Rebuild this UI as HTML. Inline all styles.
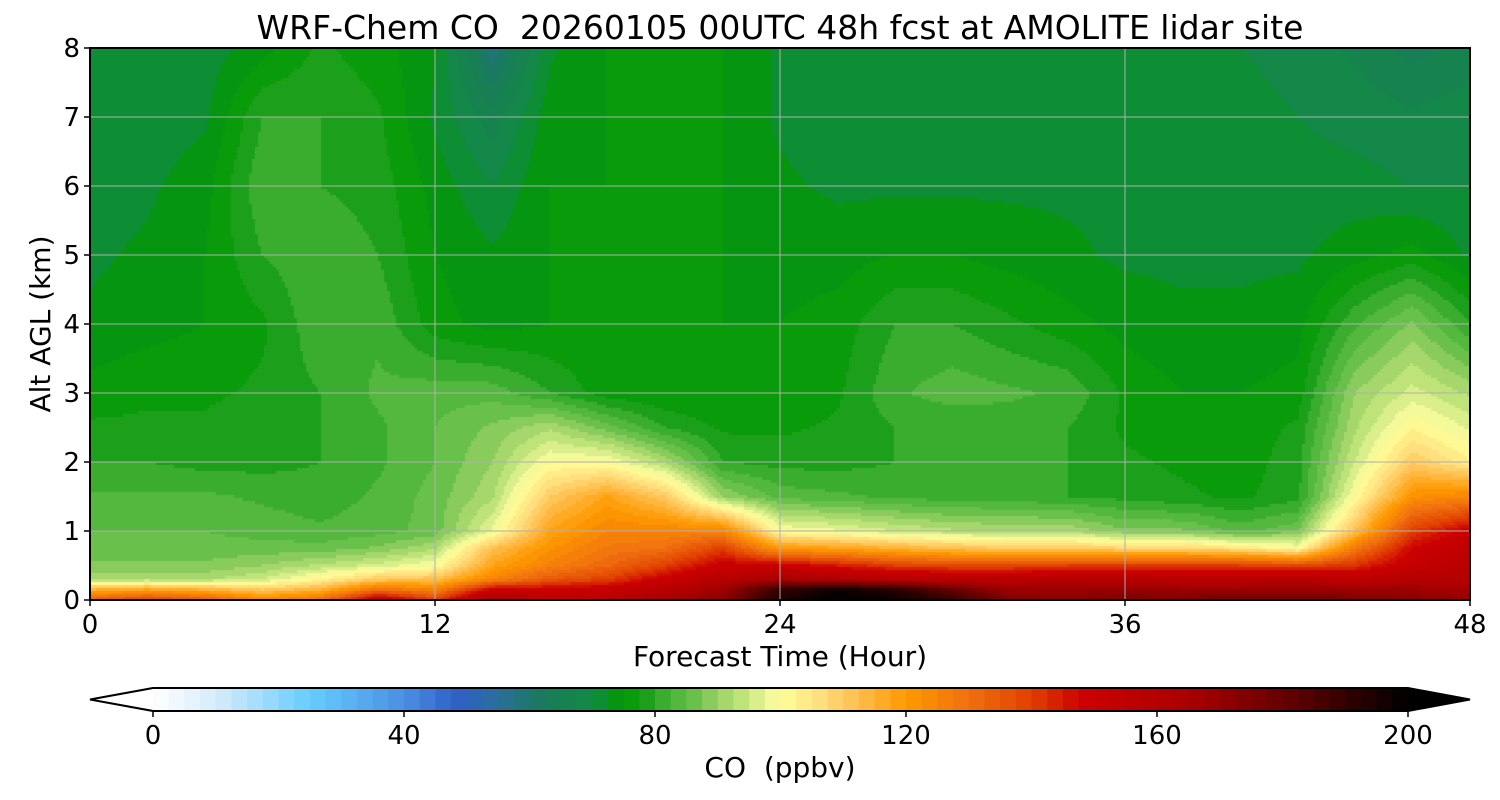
<!DOCTYPE html>
<html><head><meta charset="utf-8"><style>
body{margin:0;background:#fff;width:1500px;height:800px;overflow:hidden;font-family:"DejaVu Sans","Liberation Sans",sans-serif}
svg text{font-family:"DejaVu Sans","Liberation Sans",sans-serif}
</style></head><body>
<svg id="chart" width="1500" height="800" xmlns="http://www.w3.org/2000/svg" style="position:absolute;left:0;top:0">
<text x="780" y="39" font-size="33" text-anchor="middle" fill="#000" style="white-space:pre">WRF-Chem CO  20260105 00UTC 48h fcst at AMOLITE lidar site</text>
<g id="plot"></g>
<g id="axes"></g>
<g id="cbar"></g>
<text x="780" y="666" font-size="28" text-anchor="middle">Forecast Time (Hour)</text>
<text transform="translate(50,324) rotate(-90)" font-size="28" text-anchor="middle">Alt AGL (km)</text>
<text x="780" y="777" font-size="28" text-anchor="middle" style="white-space:pre">CO  (ppbv)</text>
</svg>
<script>
const times=[0,2,4,6,8,10,12,14,16,18,20,22,24,26,28,30,32,34,36,38,40,42,44,46,48];
const alts=[0,0.15,0.3,0.5,0.75,1.0,1.5,2.0,2.5,3,4,5,6,7,8];
const coValues=[
[135,140,135,125,130,155,140,165,155,158,165,172,195,200,198,190,175,172,175,175,178,178,175,172,170],
[115,118,115,110,115,130,125,150,150,152,160,168,190,198,192,180,168,168,170,168,168,170,168,168,165],
[92,92,92,95,102,110,112,125,135,140,150,160,165,162,160,158,158,160,160,158,158,160,155,160,160],
[88,88,88,90,93,96,100,118,126,132,140,150,150,145,140,138,138,140,140,140,140,138,142,152,158],
[86,86,86,86,86,88,92,112,122,128,130,140,120,118,115,112,110,110,108,108,105,100,128,148,155],
[85,85,85,84,83,84,86,98,118,125,125,125,100,98,95,93,92,92,88,88,84,87,112,140,150],
[83,83,83,82,81,83,86,92,110,118,110,90,84,83,82,81,81,80,79,78,77,79,100,122,125],
[80,80,79,79,80,82,85,90,100,100,92,80,79,79,80,80,80,80,78,77,76,79,95,110,103],
[78,78,78,79,80,82,85,88,92,86,80,77,77,78,80,80,81,80,77,76,76,78,92,102,97],
[76,77,77,78,80,83,84,84,80,76,75,75,75,77,82,84,83,82,77,75,75,76,90,96,92],
[73,74,75,77,82,82,76,74,75,75,75,75,75,76,80,80,78,76,74,73,73,74,82,88,80],
[72,73,75,80,82,80,75,73,75,75,75,75,74,74,75,75,74,73,72,72,72,72,74,76,72],
[71,72,74,82,80,79,74,70,75,75,75,75,73,72,72,72,72,72,72,72,72,71,71,70,70],
[71,71,72,80,80,78,72,66,74,75,75,75,72,71,71,71,71,71,71,71,71,70,69,68,69],
[71,71,71,74,78,76,73,58,72,75,75,75,72,71,71,71,70,70,70,70,70,69,67,64,66]];
const xTicks=[0,12,24,36,48];
const yTicks=[0,1,2,3,4,5,6,7,8];
const cbTicks=[0,40,80,120,160,200];
const cmapStops=[[0,'#ffffff'],[10,'#d6ecfa'],[25,'#66ccff'],[40,'#4a90e2'],[48,'#3060c8'],[55,'#2a6f9a'],[62,'#1a7a5a'],[70,'#128a45'],[75,'#009900'],[79,'#1ea01e'],[82,'#44b133'],[86,'#66c04a'],[90,'#99d066'],[94,'#c0e57a'],[98,'#eef599'],[100,'#ffff99'],[106,'#ffe080'],[112,'#ffc050'],[120,'#ff9900'],[130,'#f07010'],[140,'#e04000'],[148,'#cc0000'],[165,'#aa0000'],[180,'#660000'],[200,'#000000']];
const X0=90,X1=1470,Y0=600,Y1=48;
const xs=t=>X0+(t-0)/(48-0)*(X1-X0);
const ys=z=>Y0-(z-0)/(8-0)*(Y0-Y1);
function hex(c){return[parseInt(c.substr(1,2),16),parseInt(c.substr(3,2),16),parseInt(c.substr(5,2),16)];}
function cmap(v){v=Math.max(0,Math.min(200,v));for(let i=1;i<cmapStops.length;i++){if(v<=cmapStops[i][0]){const a=cmapStops[i-1],b=cmapStops[i];const f=(v-a[0])/(b[0]-a[0]);const ca=hex(a[1]),cb=hex(b[1]);return'rgb('+ca.map((x,k)=>Math.round(x+(cb[k]-x)*f)).join(',')+')';}}return'#000';}
function level(v){return Math.floor(v/2.5)*2.5+1.25;}
function interp(arr,v){let i=0;while(i<arr.length-2&&v>arr[i+1])i++;return[i,(v-arr[i])/(arr[i+1]-arr[i])];}
function val(t,z){const[i,fi]=interp(times,t);const[j,fj]=interp(alts,z);const a=coValues[j][i],b=coValues[j][i+1],c=coValues[j+1][i],d=coValues[j+1][i+1];return(a*(1-fi)+b*fi)*(1-fj)+(c*(1-fi)+d*fi)*fj;}
const NS='http://www.w3.org/2000/svg';
function el(tag,attrs,parent){const e=document.createElementNS(NS,tag);for(const k in attrs)e.setAttribute(k,attrs[k]);parent.appendChild(e);return e;}
const plot=document.getElementById('plot');
const fo=el('foreignObject',{x:X0,y:Y1,width:X1-X0,height:Y0-Y1},plot);
const cv=document.createElement('canvas');cv.width=X1-X0;cv.height=Y0-Y1;


fo.appendChild(cv);
const ctx=cv.getContext('2d');const S=3;
for(let px=0;px<cv.width;px+=S){for(let py=0;py<cv.height;py+=S){const t=(px+S/2)/(X1-X0)*48;const z=(cv.height-py-S/2)/(Y0-Y1)*8;ctx.fillStyle=cmap(level(val(t,z)));ctx.fillRect(px,py,S,S);}}
const axes=document.getElementById('axes');
xTicks.forEach(t=>{const l=el('line',{x1:xs(t),x2:xs(t),y1:Y1,y2:Y0,stroke:'#b0b0b0','stroke-width':1},axes);
el('line',{x1:xs(t),x2:xs(t),y1:Y0,y2:Y0+6,stroke:'#000','stroke-width':1.5},axes);
const tx=el('text',{x:xs(t),y:Y0+33,'font-size':26,'text-anchor':'middle'},axes);tx.textContent=t;});
yTicks.forEach(z=>{const l=el('line',{x1:X0,x2:X1,y1:ys(z),y2:ys(z),stroke:'#b0b0b0','stroke-width':1},axes);
el('line',{x1:X0-6,x2:X0,y1:ys(z),y2:ys(z),stroke:'#000','stroke-width':1.5},axes);
const tx=el('text',{x:X0-10,y:ys(z)+9,'font-size':26,'text-anchor':'end'},axes);tx.textContent=z;});
el('rect',{x:X0,y:Y1,width:X1-X0,height:Y0-Y1,fill:'none',stroke:'#000','stroke-width':2},axes);
const cb=document.getElementById('cbar');const C0=153,C1=1408,CT=688,CB=711;const cx=v=>C0+v/200*(C1-C0);
for(let v=0;v<200;v+=2.5){const r=el('rect',{x:cx(v),y:CT,width:cx(v+2.5)-cx(v)+0.6,height:CB-CT,fill:cmap(v+1.25)},cb);}
el('polygon',{points:`${C0},${CT} ${C0},${CB} 90,${(CT+CB)/2}`,fill:'#ffffff'},cb);
el('polygon',{points:`${C1},${CT} ${C1},${CB} 1470,${(CT+CB)/2}`,fill:'#000000'},cb);
el('polygon',{points:`90,${(CT+CB)/2} ${C0},${CT} ${C1},${CT} 1470,${(CT+CB)/2} ${C1},${CB} ${C0},${CB}`,fill:'none',stroke:'#000','stroke-width':2},cb);
cbTicks.forEach(v=>{el('line',{x1:cx(v),x2:cx(v),y1:CB,y2:CB+6,stroke:'#000','stroke-width':1.5},cb);
const tx=el('text',{x:cx(v),y:CB+33,'font-size':26,'text-anchor':'middle'},cb);tx.textContent=v;});
</script>
</body></html>
